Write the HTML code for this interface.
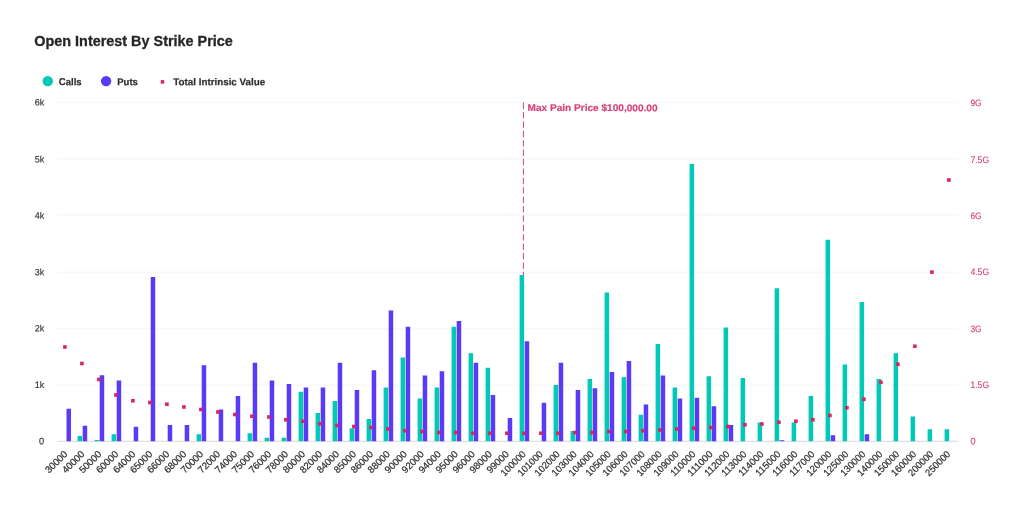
<!DOCTYPE html>
<html lang="en">
<head>
<meta charset="utf-8">
<title>Open Interest By Strike Price</title>
<style>
html,body{margin:0;padding:0;background:#ffffff;}
body{width:1024px;height:512px;overflow:hidden;font-family:"Liberation Sans", sans-serif;}
svg{display:block;}
svg text{font-family:"Liberation Sans", sans-serif;}
.t{font-weight:700;font-size:15.3px;fill:#262626;stroke:#262626;stroke-width:0.3px;}
.lg{font-weight:700;font-size:9.9px;fill:#2e2e2e;stroke:#2e2e2e;stroke-width:0.2px;}
.yl{font-size:9.3px;fill:#333333;stroke:#333333;stroke-width:0.15px;}
.yr{font-size:9.3px;fill:#d6457a;stroke:#d6457a;stroke-width:0.15px;}
.xl{font-size:9.7px;fill:#303030;stroke:#303030;stroke-width:0.22px;}
.mp{font-weight:700;font-size:9.8px;fill:#d6457a;stroke:#d6457a;stroke-width:0.2px;}
</style>
</head>
<body>
<svg width="1024" height="512" viewBox="0 0 1024 512">
<rect x="0" y="0" width="1024" height="512" fill="#ffffff"/>
<text class="t" transform="rotate(0.02)" x="34.3" y="46.2" textLength="198.5" lengthAdjust="spacingAndGlyphs">Open Interest By Strike Price</text>
<g id="legend">
<circle cx="47.8" cy="81.1" r="5.2" fill="#00c9b7"/>
<text class="lg" transform="rotate(0.03)" x="58.9" y="85.1" textLength="22.8" lengthAdjust="spacingAndGlyphs">Calls</text>
<circle cx="106.1" cy="81.1" r="5.2" fill="#5b39f6"/>
<text class="lg" transform="rotate(0.03)" x="117.3" y="85.1" textLength="20.6" lengthAdjust="spacingAndGlyphs">Puts</text>
<rect x="160.75" y="80.15" width="3.5" height="3.5" fill="#d9245f"/>
<text class="lg" transform="rotate(0.03)" x="173.3" y="85.1" textLength="91.9" lengthAdjust="spacingAndGlyphs">Total Intrinsic Value</text>
</g>
<g id="grid" stroke="#f8f8f8" stroke-width="1.7">
<line x1="57.0" y1="385.00" x2="957.9" y2="385.00"/>
<line x1="57.0" y1="328.70" x2="957.9" y2="328.70"/>
<line x1="57.0" y1="272.40" x2="957.9" y2="272.40"/>
<line x1="57.0" y1="214.90" x2="957.9" y2="214.90"/>
<line x1="57.0" y1="158.80" x2="957.9" y2="158.80"/>
<line x1="57.0" y1="102.40" x2="957.9" y2="102.40"/>
</g>
<line x1="523.4" y1="102.6" x2="523.4" y2="441.25" stroke="#d6457a" stroke-width="1" stroke-dasharray="6.4 3"/>
<text class="mp" transform="rotate(0.03)" x="527.6" y="110.8" textLength="130" lengthAdjust="spacingAndGlyphs">Max Pain Price $100,000.00</text>
<line x1="57.0" y1="441.40" x2="957.9" y2="441.40" stroke="#e0e0e0" stroke-width="1.2"/>
<g id="calls" fill="#00c9b7">
<rect x="77.60" y="436.00" width="4.50" height="5.25"/>
<rect x="94.60" y="440.00" width="4.50" height="1.25"/>
<rect x="111.60" y="434.25" width="4.50" height="7.00"/>
<rect x="196.60" y="434.25" width="4.50" height="7.00"/>
<rect x="247.60" y="433.25" width="4.50" height="8.00"/>
<rect x="264.60" y="437.75" width="4.50" height="3.50"/>
<rect x="281.60" y="437.75" width="4.50" height="3.50"/>
<rect x="298.60" y="391.75" width="4.50" height="49.50"/>
<rect x="315.60" y="413.00" width="4.50" height="28.25"/>
<rect x="332.60" y="401.00" width="4.50" height="40.25"/>
<rect x="349.60" y="428.25" width="4.50" height="13.00"/>
<rect x="366.60" y="419.00" width="4.50" height="22.25"/>
<rect x="383.60" y="387.50" width="4.50" height="53.75"/>
<rect x="400.60" y="357.50" width="4.50" height="83.75"/>
<rect x="417.60" y="398.50" width="4.50" height="42.75"/>
<rect x="434.60" y="387.50" width="4.50" height="53.75"/>
<rect x="451.60" y="326.75" width="4.50" height="114.50"/>
<rect x="468.60" y="353.25" width="4.50" height="88.00"/>
<rect x="485.60" y="367.75" width="4.50" height="73.50"/>
<rect x="519.60" y="275.00" width="4.50" height="166.25"/>
<rect x="553.60" y="385.00" width="4.50" height="56.25"/>
<rect x="570.60" y="431.00" width="4.50" height="10.25"/>
<rect x="587.60" y="379.00" width="4.50" height="62.25"/>
<rect x="604.60" y="292.50" width="4.50" height="148.75"/>
<rect x="621.60" y="377.25" width="4.50" height="64.00"/>
<rect x="638.60" y="414.75" width="4.50" height="26.50"/>
<rect x="655.60" y="344.00" width="4.50" height="97.25"/>
<rect x="672.60" y="387.50" width="4.50" height="53.75"/>
<rect x="689.60" y="164.00" width="4.50" height="277.25"/>
<rect x="706.60" y="376.25" width="4.50" height="65.00"/>
<rect x="723.60" y="327.50" width="4.50" height="113.75"/>
<rect x="740.60" y="378.00" width="4.50" height="63.25"/>
<rect x="757.60" y="422.50" width="4.50" height="18.75"/>
<rect x="774.60" y="288.25" width="4.50" height="153.00"/>
<rect x="791.60" y="422.50" width="4.50" height="18.75"/>
<rect x="808.60" y="396.00" width="4.50" height="45.25"/>
<rect x="825.60" y="239.75" width="4.50" height="201.50"/>
<rect x="842.60" y="364.50" width="4.50" height="76.75"/>
<rect x="859.60" y="302.00" width="4.50" height="139.25"/>
<rect x="876.60" y="379.00" width="4.50" height="62.25"/>
<rect x="893.60" y="353.25" width="4.50" height="88.00"/>
<rect x="910.60" y="416.50" width="4.50" height="24.75"/>
<rect x="927.60" y="429.25" width="4.50" height="12.00"/>
<rect x="944.60" y="429.25" width="4.50" height="12.00"/>
</g>
<g id="puts" fill="#5b39f6">
<rect x="66.50" y="408.75" width="4.50" height="32.50"/>
<rect x="82.70" y="425.75" width="4.50" height="15.50"/>
<rect x="99.70" y="375.25" width="4.50" height="66.00"/>
<rect x="116.70" y="380.50" width="4.50" height="60.75"/>
<rect x="133.70" y="426.75" width="4.50" height="14.50"/>
<rect x="150.70" y="277.00" width="4.50" height="164.25"/>
<rect x="167.70" y="425.00" width="4.50" height="16.25"/>
<rect x="184.70" y="425.00" width="4.50" height="16.25"/>
<rect x="201.70" y="365.25" width="4.50" height="76.00"/>
<rect x="218.70" y="409.50" width="4.50" height="31.75"/>
<rect x="235.70" y="396.00" width="4.50" height="45.25"/>
<rect x="252.70" y="362.75" width="4.50" height="78.50"/>
<rect x="269.70" y="380.50" width="4.50" height="60.75"/>
<rect x="286.70" y="384.00" width="4.50" height="57.25"/>
<rect x="303.70" y="387.50" width="4.50" height="53.75"/>
<rect x="320.70" y="387.50" width="4.50" height="53.75"/>
<rect x="337.70" y="362.75" width="4.50" height="78.50"/>
<rect x="354.70" y="390.00" width="4.50" height="51.25"/>
<rect x="371.70" y="370.25" width="4.50" height="71.00"/>
<rect x="388.70" y="310.50" width="4.50" height="130.75"/>
<rect x="405.70" y="326.75" width="4.50" height="114.50"/>
<rect x="422.70" y="375.50" width="4.50" height="65.75"/>
<rect x="439.70" y="371.25" width="4.50" height="70.00"/>
<rect x="456.70" y="321.00" width="4.50" height="120.25"/>
<rect x="473.70" y="362.75" width="4.50" height="78.50"/>
<rect x="490.70" y="395.00" width="4.50" height="46.25"/>
<rect x="507.70" y="418.00" width="4.50" height="23.25"/>
<rect x="524.70" y="341.25" width="4.50" height="100.00"/>
<rect x="541.70" y="402.75" width="4.50" height="38.50"/>
<rect x="558.70" y="362.75" width="4.50" height="78.50"/>
<rect x="575.70" y="390.00" width="4.50" height="51.25"/>
<rect x="592.70" y="388.25" width="4.50" height="53.00"/>
<rect x="609.70" y="372.00" width="4.50" height="69.25"/>
<rect x="626.70" y="361.00" width="4.50" height="80.25"/>
<rect x="643.70" y="404.50" width="4.50" height="36.75"/>
<rect x="660.70" y="375.50" width="4.50" height="65.75"/>
<rect x="677.70" y="398.50" width="4.50" height="42.75"/>
<rect x="694.70" y="397.75" width="4.50" height="43.50"/>
<rect x="711.70" y="406.25" width="4.50" height="35.00"/>
<rect x="728.70" y="425.00" width="4.50" height="16.25"/>
<rect x="779.70" y="440.25" width="4.50" height="1.00"/>
<rect x="830.70" y="435.25" width="4.50" height="6.00"/>
<rect x="864.70" y="434.25" width="4.50" height="7.00"/>
</g>
<g id="intrinsic" fill="#d9245f">
<rect x="63.10" y="345.20" width="3.60" height="3.60"/>
<rect x="80.10" y="361.70" width="3.60" height="3.60"/>
<rect x="97.10" y="377.70" width="3.60" height="3.60"/>
<rect x="114.10" y="393.20" width="3.60" height="3.60"/>
<rect x="131.10" y="398.95" width="3.60" height="3.60"/>
<rect x="148.10" y="400.70" width="3.60" height="3.60"/>
<rect x="165.10" y="402.45" width="3.60" height="3.60"/>
<rect x="182.10" y="405.20" width="3.60" height="3.60"/>
<rect x="199.10" y="407.70" width="3.60" height="3.60"/>
<rect x="216.10" y="410.20" width="3.60" height="3.60"/>
<rect x="233.10" y="412.70" width="3.60" height="3.60"/>
<rect x="250.10" y="414.45" width="3.60" height="3.60"/>
<rect x="267.10" y="415.20" width="3.60" height="3.60"/>
<rect x="284.10" y="417.95" width="3.60" height="3.60"/>
<rect x="301.10" y="419.45" width="3.60" height="3.60"/>
<rect x="318.10" y="421.95" width="3.60" height="3.60"/>
<rect x="335.10" y="423.70" width="3.60" height="3.60"/>
<rect x="352.10" y="424.70" width="3.60" height="3.60"/>
<rect x="369.10" y="425.70" width="3.60" height="3.60"/>
<rect x="386.10" y="427.20" width="3.60" height="3.60"/>
<rect x="403.10" y="428.95" width="3.60" height="3.60"/>
<rect x="420.10" y="429.70" width="3.60" height="3.60"/>
<rect x="437.10" y="430.70" width="3.60" height="3.60"/>
<rect x="454.10" y="430.70" width="3.60" height="3.60"/>
<rect x="471.10" y="431.45" width="3.60" height="3.60"/>
<rect x="488.10" y="431.45" width="3.60" height="3.60"/>
<rect x="505.10" y="431.45" width="3.60" height="3.60"/>
<rect x="522.10" y="431.45" width="3.60" height="3.60"/>
<rect x="539.10" y="431.45" width="3.60" height="3.60"/>
<rect x="556.10" y="431.45" width="3.60" height="3.60"/>
<rect x="573.10" y="430.70" width="3.60" height="3.60"/>
<rect x="590.10" y="430.70" width="3.60" height="3.60"/>
<rect x="607.10" y="429.70" width="3.60" height="3.60"/>
<rect x="624.10" y="429.70" width="3.60" height="3.60"/>
<rect x="641.10" y="428.95" width="3.60" height="3.60"/>
<rect x="658.10" y="428.20" width="3.60" height="3.60"/>
<rect x="675.10" y="427.20" width="3.60" height="3.60"/>
<rect x="692.10" y="426.45" width="3.60" height="3.60"/>
<rect x="709.10" y="425.70" width="3.60" height="3.60"/>
<rect x="726.10" y="424.70" width="3.60" height="3.60"/>
<rect x="743.10" y="422.95" width="3.60" height="3.60"/>
<rect x="760.10" y="422.20" width="3.60" height="3.60"/>
<rect x="777.10" y="420.45" width="3.60" height="3.60"/>
<rect x="794.10" y="419.45" width="3.60" height="3.60"/>
<rect x="811.10" y="417.95" width="3.60" height="3.60"/>
<rect x="828.10" y="413.70" width="3.60" height="3.60"/>
<rect x="845.10" y="405.95" width="3.60" height="3.60"/>
<rect x="862.10" y="397.45" width="3.60" height="3.60"/>
<rect x="879.10" y="380.45" width="3.60" height="3.60"/>
<rect x="896.10" y="362.45" width="3.60" height="3.60"/>
<rect x="913.10" y="344.45" width="3.60" height="3.60"/>
<rect x="930.10" y="270.30" width="3.60" height="3.60"/>
<rect x="947.10" y="178.20" width="3.60" height="3.60"/>
</g>
<g id="yleft">
<text class="yl" transform="rotate(0.03 39.10 444.35)" x="39.10" y="444.35" textLength="5.10" lengthAdjust="spacingAndGlyphs">0</text>
<text class="yl" transform="rotate(0.03 34.70 388.05)" x="34.70" y="388.05" textLength="9.50" lengthAdjust="spacingAndGlyphs">1k</text>
<text class="yl" transform="rotate(0.03 34.70 331.55)" x="34.70" y="331.55" textLength="9.50" lengthAdjust="spacingAndGlyphs">2k</text>
<text class="yl" transform="rotate(0.03 34.70 275.25)" x="34.70" y="275.25" textLength="9.50" lengthAdjust="spacingAndGlyphs">3k</text>
<text class="yl" transform="rotate(0.03 34.70 218.65)" x="34.70" y="218.65" textLength="9.50" lengthAdjust="spacingAndGlyphs">4k</text>
<text class="yl" transform="rotate(0.03 34.70 162.55)" x="34.70" y="162.55" textLength="9.50" lengthAdjust="spacingAndGlyphs">5k</text>
<text class="yl" transform="rotate(0.03 34.70 105.55)" x="34.70" y="105.55" textLength="9.50" lengthAdjust="spacingAndGlyphs">6k</text>
</g>
<g id="yright">
<text class="yr" transform="rotate(0.03 970.40 444.35)" x="970.40" y="444.35" textLength="5.10" lengthAdjust="spacingAndGlyphs">0</text>
<text class="yr" transform="rotate(0.03 970.40 388.05)" x="970.40" y="388.05" textLength="18.70" lengthAdjust="spacingAndGlyphs">1.5G</text>
<text class="yr" transform="rotate(0.03 970.40 331.55)" x="970.40" y="331.55" textLength="11.20" lengthAdjust="spacingAndGlyphs">3G</text>
<text class="yr" transform="rotate(0.03 970.40 275.25)" x="970.40" y="275.25" textLength="18.70" lengthAdjust="spacingAndGlyphs">4.5G</text>
<text class="yr" transform="rotate(0.03 970.40 218.65)" x="970.40" y="218.65" textLength="11.20" lengthAdjust="spacingAndGlyphs">6G</text>
<text class="yr" transform="rotate(0.03 970.40 162.55)" x="970.40" y="162.55" textLength="18.70" lengthAdjust="spacingAndGlyphs">7.5G</text>
<text class="yr" transform="rotate(0.03 970.40 105.55)" x="970.40" y="105.55" textLength="11.20" lengthAdjust="spacingAndGlyphs">9G</text>
</g>
<g id="xlabels">
<text class="xl" transform="translate(68.10 454.75) rotate(-45)" text-anchor="end">30000</text>
<text class="xl" transform="translate(85.08 454.75) rotate(-45)" text-anchor="end">40000</text>
<text class="xl" transform="translate(102.06 454.75) rotate(-45)" text-anchor="end">50000</text>
<text class="xl" transform="translate(119.03 454.75) rotate(-45)" text-anchor="end">60000</text>
<text class="xl" transform="translate(136.01 454.75) rotate(-45)" text-anchor="end">64000</text>
<text class="xl" transform="translate(152.99 454.75) rotate(-45)" text-anchor="end">65000</text>
<text class="xl" transform="translate(169.97 454.75) rotate(-45)" text-anchor="end">66000</text>
<text class="xl" transform="translate(186.95 454.75) rotate(-45)" text-anchor="end">68000</text>
<text class="xl" transform="translate(203.92 454.75) rotate(-45)" text-anchor="end">70000</text>
<text class="xl" transform="translate(220.90 454.75) rotate(-45)" text-anchor="end">72000</text>
<text class="xl" transform="translate(237.88 454.75) rotate(-45)" text-anchor="end">74000</text>
<text class="xl" transform="translate(254.86 454.75) rotate(-45)" text-anchor="end">75000</text>
<text class="xl" transform="translate(271.84 454.75) rotate(-45)" text-anchor="end">76000</text>
<text class="xl" transform="translate(288.81 454.75) rotate(-45)" text-anchor="end">78000</text>
<text class="xl" transform="translate(305.79 454.75) rotate(-45)" text-anchor="end">80000</text>
<text class="xl" transform="translate(322.77 454.75) rotate(-45)" text-anchor="end">82000</text>
<text class="xl" transform="translate(339.75 454.75) rotate(-45)" text-anchor="end">84000</text>
<text class="xl" transform="translate(356.73 454.75) rotate(-45)" text-anchor="end">85000</text>
<text class="xl" transform="translate(373.70 454.75) rotate(-45)" text-anchor="end">86000</text>
<text class="xl" transform="translate(390.68 454.75) rotate(-45)" text-anchor="end">88000</text>
<text class="xl" transform="translate(407.66 454.75) rotate(-45)" text-anchor="end">90000</text>
<text class="xl" transform="translate(424.64 454.75) rotate(-45)" text-anchor="end">92000</text>
<text class="xl" transform="translate(441.62 454.75) rotate(-45)" text-anchor="end">94000</text>
<text class="xl" transform="translate(458.59 454.75) rotate(-45)" text-anchor="end">95000</text>
<text class="xl" transform="translate(475.57 454.75) rotate(-45)" text-anchor="end">96000</text>
<text class="xl" transform="translate(492.55 454.75) rotate(-45)" text-anchor="end">98000</text>
<text class="xl" transform="translate(509.53 454.75) rotate(-45)" text-anchor="end">99000</text>
<text class="xl" transform="translate(526.51 454.75) rotate(-45)" text-anchor="end" textLength="31" lengthAdjust="spacingAndGlyphs">100000</text>
<text class="xl" transform="translate(543.48 454.75) rotate(-45)" text-anchor="end" textLength="31" lengthAdjust="spacingAndGlyphs">101000</text>
<text class="xl" transform="translate(560.46 454.75) rotate(-45)" text-anchor="end" textLength="31" lengthAdjust="spacingAndGlyphs">102000</text>
<text class="xl" transform="translate(577.44 454.75) rotate(-45)" text-anchor="end" textLength="31" lengthAdjust="spacingAndGlyphs">103000</text>
<text class="xl" transform="translate(594.42 454.75) rotate(-45)" text-anchor="end" textLength="31" lengthAdjust="spacingAndGlyphs">104000</text>
<text class="xl" transform="translate(611.40 454.75) rotate(-45)" text-anchor="end" textLength="31" lengthAdjust="spacingAndGlyphs">105000</text>
<text class="xl" transform="translate(628.37 454.75) rotate(-45)" text-anchor="end" textLength="31" lengthAdjust="spacingAndGlyphs">106000</text>
<text class="xl" transform="translate(645.35 454.75) rotate(-45)" text-anchor="end" textLength="31" lengthAdjust="spacingAndGlyphs">107000</text>
<text class="xl" transform="translate(662.33 454.75) rotate(-45)" text-anchor="end" textLength="31" lengthAdjust="spacingAndGlyphs">108000</text>
<text class="xl" transform="translate(679.31 454.75) rotate(-45)" text-anchor="end" textLength="31" lengthAdjust="spacingAndGlyphs">109000</text>
<text class="xl" transform="translate(696.29 454.75) rotate(-45)" text-anchor="end" textLength="31" lengthAdjust="spacingAndGlyphs">110000</text>
<text class="xl" transform="translate(713.26 454.75) rotate(-45)" text-anchor="end" textLength="31" lengthAdjust="spacingAndGlyphs">111000</text>
<text class="xl" transform="translate(730.24 454.75) rotate(-45)" text-anchor="end" textLength="31" lengthAdjust="spacingAndGlyphs">112000</text>
<text class="xl" transform="translate(747.22 454.75) rotate(-45)" text-anchor="end" textLength="31" lengthAdjust="spacingAndGlyphs">113000</text>
<text class="xl" transform="translate(764.20 454.75) rotate(-45)" text-anchor="end" textLength="31" lengthAdjust="spacingAndGlyphs">114000</text>
<text class="xl" transform="translate(781.18 454.75) rotate(-45)" text-anchor="end" textLength="31" lengthAdjust="spacingAndGlyphs">115000</text>
<text class="xl" transform="translate(798.15 454.75) rotate(-45)" text-anchor="end" textLength="31" lengthAdjust="spacingAndGlyphs">116000</text>
<text class="xl" transform="translate(815.13 454.75) rotate(-45)" text-anchor="end" textLength="31" lengthAdjust="spacingAndGlyphs">117000</text>
<text class="xl" transform="translate(832.11 454.75) rotate(-45)" text-anchor="end" textLength="31" lengthAdjust="spacingAndGlyphs">120000</text>
<text class="xl" transform="translate(849.09 454.75) rotate(-45)" text-anchor="end" textLength="31" lengthAdjust="spacingAndGlyphs">125000</text>
<text class="xl" transform="translate(866.07 454.75) rotate(-45)" text-anchor="end" textLength="31" lengthAdjust="spacingAndGlyphs">130000</text>
<text class="xl" transform="translate(883.04 454.75) rotate(-45)" text-anchor="end" textLength="31" lengthAdjust="spacingAndGlyphs">140000</text>
<text class="xl" transform="translate(900.02 454.75) rotate(-45)" text-anchor="end" textLength="31" lengthAdjust="spacingAndGlyphs">150000</text>
<text class="xl" transform="translate(917.00 454.75) rotate(-45)" text-anchor="end" textLength="31" lengthAdjust="spacingAndGlyphs">160000</text>
<text class="xl" transform="translate(933.98 454.75) rotate(-45)" text-anchor="end" textLength="31" lengthAdjust="spacingAndGlyphs">200000</text>
<text class="xl" transform="translate(950.96 454.75) rotate(-45)" text-anchor="end" textLength="31" lengthAdjust="spacingAndGlyphs">250000</text>
</g>
</svg>
</body>
</html>
